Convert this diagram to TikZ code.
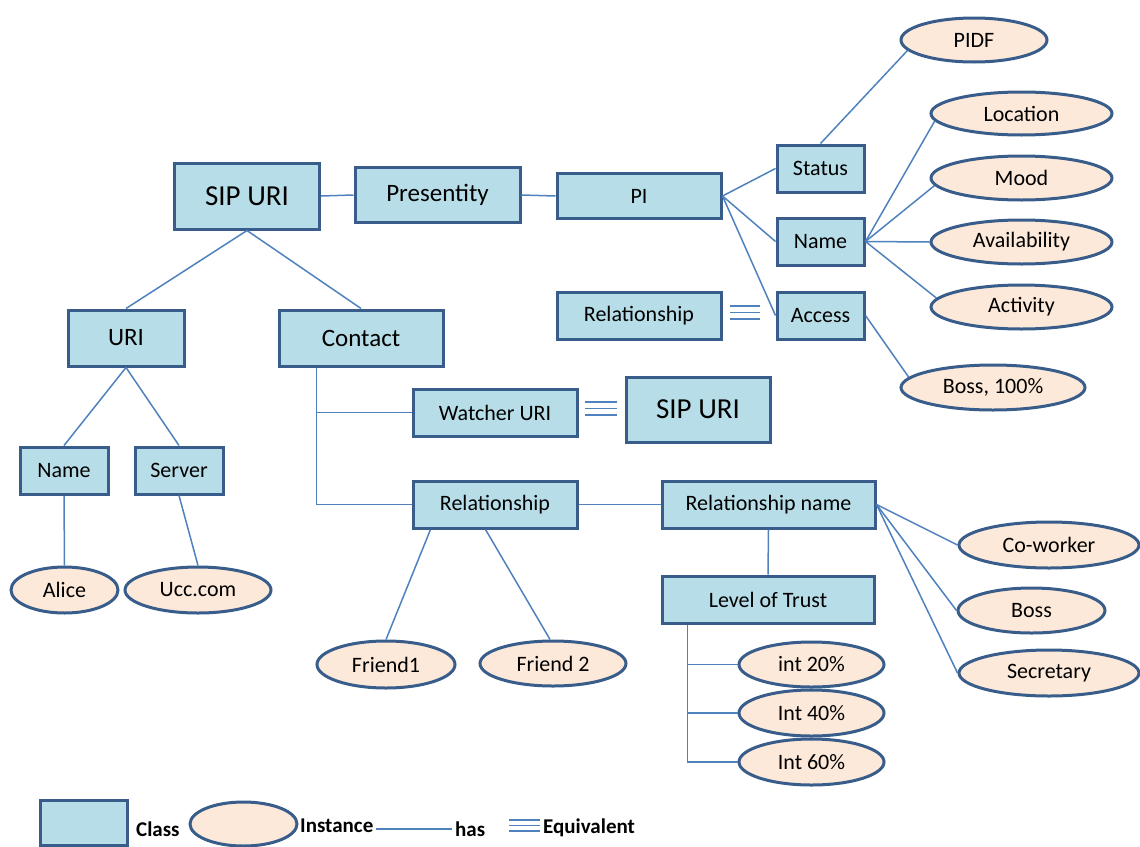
\documentclass[tikz,border=0pt]{standalone}
\usepackage{fontspec}
\setmainfont{Carlito}
\usetikzlibrary{shapes.geometric}
\definecolor{clsfill}{HTML}{B7DEE8}
\definecolor{clsedge}{HTML}{385D8A}
\definecolor{insfill}{HTML}{FDE9D9}
\definecolor{linkcol}{HTML}{4F81BD}
\begin{document}
\begin{tikzpicture}[x=1pt,y=-1pt,
  cls/.style={draw=clsedge, fill=clsfill, line width=3pt, inner sep=0pt,
    font=\fontsize{22}{26}\selectfont},
  ins/.style={ellipse, draw=clsedge, fill=insfill, line width=3pt, inner sep=0pt,
    font=\fontsize{22}{26}\selectfont},
  link/.style={draw=linkcol, line width=1.5pt},
  equiv/.style={draw=linkcol, line width=1.6pt},
  legtext/.style={inner sep=3pt, font=\fontsize{21}{25}\selectfont\bfseries}]
\useasboundingbox (0,0) rectangle (1140,846);

% classes
\node[cls, minimum width=145pt, minimum height=66pt, font=\fontsize{29}{33}\selectfont] (sip) at (247,196) {SIP URI};
\node[cls, minimum width=165pt, minimum height=55pt, font=\fontsize{25}{29}\selectfont] (pres) at (437.5,195) {Presentity};
\node[cls, minimum width=164pt, minimum height=45pt] (pi) at (639,196) {PI};
\node[cls, minimum width=87pt, minimum height=47pt] (status) at (820.5,168.5) {Status};
\node[cls, minimum width=87pt, minimum height=47pt] (nameR) at (820.5,241.5) {Name};
\node[cls, minimum width=87pt, minimum height=47pt] (access) at (820.5,315.5) {Access};
\node[cls, minimum width=164pt, minimum height=47pt] (relA) at (639,315.5) {Relationship};
\node[cls, minimum width=116pt, minimum height=56pt, font=\fontsize{25}{29}\selectfont] (uri) at (126,338) {URI};
\node[cls, minimum width=164pt, minimum height=56pt, font=\fontsize{25}{29}\selectfont] (contact) at (361,338) {Contact};
\node[cls, minimum width=164pt, minimum height=47pt] (watcher) at (495,412.5) {Watcher URI};
\node[cls, minimum width=144pt, minimum height=65pt, font=\fontsize{29}{33}\selectfont] (sipB) at (698,409.5) {SIP URI};
\node[cls, minimum width=88pt, minimum height=47pt] (nameL) at (64,470.5) {Name};
\node[cls, minimum width=88pt, minimum height=47pt] (server) at (179,470.5) {Server};
\node[cls, minimum width=164pt, minimum height=47pt] (relB) at (495,504.5) {Relationship};
\node[cls, minimum width=213pt, minimum height=47pt] (relname) at (768.5,504.5) {Relationship name};
\node[cls, minimum width=212pt, minimum height=47pt] (trust) at (768,599.5) {Level of Trust};

% instances
\node[ins, minimum width=146pt, minimum height=44pt] (pidf) at (974,40) {PIDF};
\node[ins, minimum width=181pt, minimum height=43pt] (loc) at (1021.5,113.5) {Location};
\node[ins, minimum width=181pt, minimum height=44pt] (mood) at (1021.5,178) {Mood};
\node[ins, minimum width=181pt, minimum height=44pt] (avail) at (1021.5,242) {Availability};
\node[ins, minimum width=181pt, minimum height=44pt] (activ) at (1021.5,307) {Activity};
\node[ins, minimum width=184pt, minimum height=45pt] (boss100) at (993,387.5) {Boss, 100\%};
\node[ins, minimum width=180pt, minimum height=46pt] (cowork) at (1049,545) {Co-worker};
\node[ins, minimum width=147pt, minimum height=45pt] (boss) at (1031.5,610.5) {Boss};
\node[ins, minimum width=180pt, minimum height=46pt] (secr) at (1049,673) {Secretary};
\node[ins, minimum width=145pt, minimum height=45pt] (t20) at (811.5,664.5) {int 20\%};
\node[ins, minimum width=145pt, minimum height=46pt] (t40) at (811.5,713) {Int 40\%};
\node[ins, minimum width=145pt, minimum height=46pt] (t60) at (811.5,762) {Int 60\%};
\node[ins, minimum width=138pt, minimum height=47pt] (fr1) at (386,664.5) {Friend1};
\node[ins, minimum width=146pt, minimum height=45pt] (fr2) at (553,663.5) {Friend 2};
\node[ins, minimum width=107pt, minimum height=46pt] (alice) at (64.5,590) {Alice};
\node[ins, minimum width=146pt, minimum height=46pt] (ucc) at (198,590) {Ucc.com};

% "has" links
\draw[link] (sip.east) -- (pres.west);
\draw[link] (pres.east) -- (pi.west);
\draw[link] (pi.east) -- (status.west);
\draw[link] (pi.east) -- (nameR.west);
\draw[link] (pi.east) -- (access.west);
\draw[link] (status.north) -- (pidf.189);
\draw[link] (nameR.east) -- (loc.185);
\draw[link] (nameR.east) -- (mood.185);
\draw[link] (nameR.east) -- (avail.west);
\draw[link] (nameR.east) -- (activ.174);
\draw[link] (access.east) -- (boss100.173);
\draw[link] (sip.south) -- (uri.north);
\draw[link] (sip.south) -- (contact.north);
\draw[link] (uri.south) -- (nameL.north);
\draw[link] (uri.south) -- (server.north);
\draw[link] (nameL.south) -- (alice.north);
\draw[link] (server.south) -- (ucc.north);
\draw[link] ([xshift=39pt]contact.south west) |- (watcher.west);
\draw[link] ([xshift=39pt]contact.south west) |- (relB.west);
\draw[link] (relB.east) -- (relname.west);
\draw[link] ([xshift=19pt]relB.south west) -- (fr1.north);
\draw[link] ([xshift=74pt]relB.south west) -- (fr2.97);
\draw[link] (relname.south) -- (trust.north);
\draw[link] (relname.east) -- (cowork.west);
\draw[link] (relname.east) -- (boss.west);
\draw[link] (relname.east) -- (secr.west);
\draw[link] ([xshift=27pt]trust.south west) |- (t20.west);
\draw[link] ([xshift=27pt]trust.south west) |- (t40.west);
\draw[link] ([xshift=27pt]trust.south west) |- (t60.west);

% equivalences
\foreach \yy in {306,312.5,319} \draw[equiv] (730,\yy) -- (760,\yy);
\foreach \yy in {402,408.5,415} \draw[equiv] (585,\yy) -- (617,\yy);

% legend
\node[cls, minimum width=87pt, minimum height=45pt] (lgbox) at (83.5,823) {};
\node[legtext, anchor=west] (lgclass) at (133,829) {Class};
\node[ins, minimum width=107pt, minimum height=44pt] (lgell) at (243.5,824) {};
\node[legtext, anchor=west] (lginst) at (297,826) {Instance};
\node[legtext, anchor=west] (lghas) at (452,829) {has};
\draw[link] (lginst.east |- lghas.west) -- (lghas.west);
\foreach \yy in {820,825.5,831} \draw[equiv] (509,\yy) -- (540,\yy);
\node[legtext, anchor=west] (lgeq) at (540,828) {Equivalent};
\end{tikzpicture}
\end{document}
